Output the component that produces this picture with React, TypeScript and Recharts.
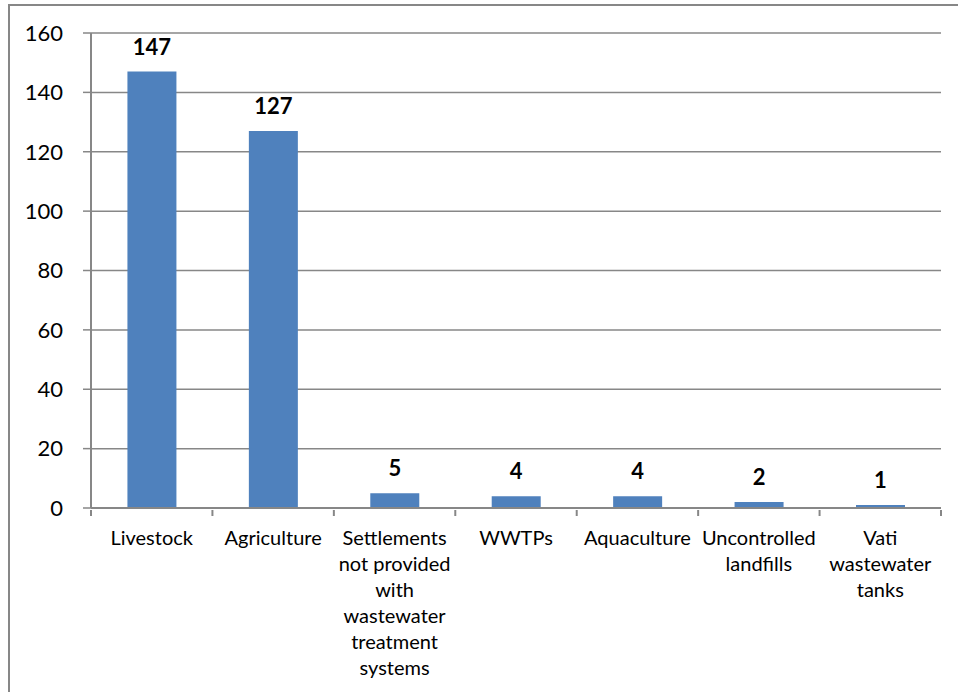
import React from "react";
import { BarChart, Bar, XAxis, YAxis, CartesianGrid, LabelList } from "recharts";

// ── Data ───────────────────────────────────────────────────────────────────────
const categories = [
  "Livestock",
  "Agriculture",
  "Settlements\nnot provided\nwith\nwastewater\ntreatment\nsystems",
  "WWTPs",
  "Aquaculture",
  "Uncontrolled\nlandfills",
  "Vati\nwastewater\ntanks",
];
const values = [147, 127, 5, 4, 4, 2, 1];
const yTicks = [0, 20, 40, 60, 80, 100, 120, 140, 160];

// ── Look ───────────────────────────────────────────────────────────────────────
const W = 958;
const H = 692;
const FONT = "Lato, 'Open Sans', sans-serif";
const BLUE = "#4f81bd";
const GRID = "#878787";
const AXIS_W = 91;
const RIGHT = 17;
const BAND = (W - AXIS_W - RIGHT) / categories.length;

const data = categories.map((c, i) => ({ name: c, value: values[i] }));

function CategoryTick({ x, y, payload, index }: { x: number; y: number; payload: { value: string }; index: number }) {
  const lines = String(payload.value).split("\n");
  return (
    <g>
      <line x1={x - BAND / 2} x2={x - BAND / 2} y1={y} y2={y + 6} stroke={GRID} strokeWidth={2} />
      {index === categories.length - 1 && (
        <line x1={x + BAND / 2} x2={x + BAND / 2} y1={y} y2={y + 6} stroke={GRID} strokeWidth={2} />
      )}
      <text x={x} y={y + 35} textAnchor="middle" fill="#000" style={{ fontFamily: FONT, fontSize: 20 }}>
        {lines.map((l, i) => (
          <tspan key={i} x={x} dy={i === 0 ? 0 : 26}>{l}</tspan>
        ))}
      </text>
    </g>
  );
}

export default function App() {
  return (
    <div style={{ position: "absolute", left: 0, top: 0, width: W, height: H, overflow: "hidden", background: "#fff" }}>
      <div
        style={{
          position: "absolute", left: 8, top: 4, width: W - 8, height: H - 4,
          borderTop: `2px solid ${GRID}`, borderLeft: `2px solid ${GRID}`, boxSizing: "border-box",
        }}
      />
      <div style={{ position: "absolute", left: 0, top: 0 }}>
        <BarChart width={W} height={H} data={data} margin={{ top: 33, right: RIGHT, left: 0, bottom: 0 }} barCategoryGap="30%">
          <CartesianGrid vertical={false} stroke={GRID} strokeWidth={1.5} />
          <XAxis
            dataKey="name"
            height={184}
            interval={0}
            tickSize={0}
            tickLine={false}
            axisLine={{ stroke: GRID, strokeWidth: 2 }}
            tick={(props: any) => <CategoryTick {...props} />}
          />
          <YAxis
            width={AXIS_W}
            domain={[0, 160]}
            ticks={yTicks}
            interval={0}
            tickSize={8}
            tickMargin={20}
            axisLine={{ stroke: GRID, strokeWidth: 2 }}
            tickLine={{ stroke: GRID, strokeWidth: 1.5 }}
            tick={{ fontFamily: FONT, fontSize: 22, fill: "#000" }}
          />
          <Bar dataKey="value" fill={BLUE} isAnimationActive={false}>
            <LabelList
              dataKey="value"
              position="top"
              offset={17}
              style={{ fontFamily: FONT, fontSize: 22, fontWeight: 700, fill: "#000" }}
            />
          </Bar>
        </BarChart>
      </div>
    </div>
  );
}
